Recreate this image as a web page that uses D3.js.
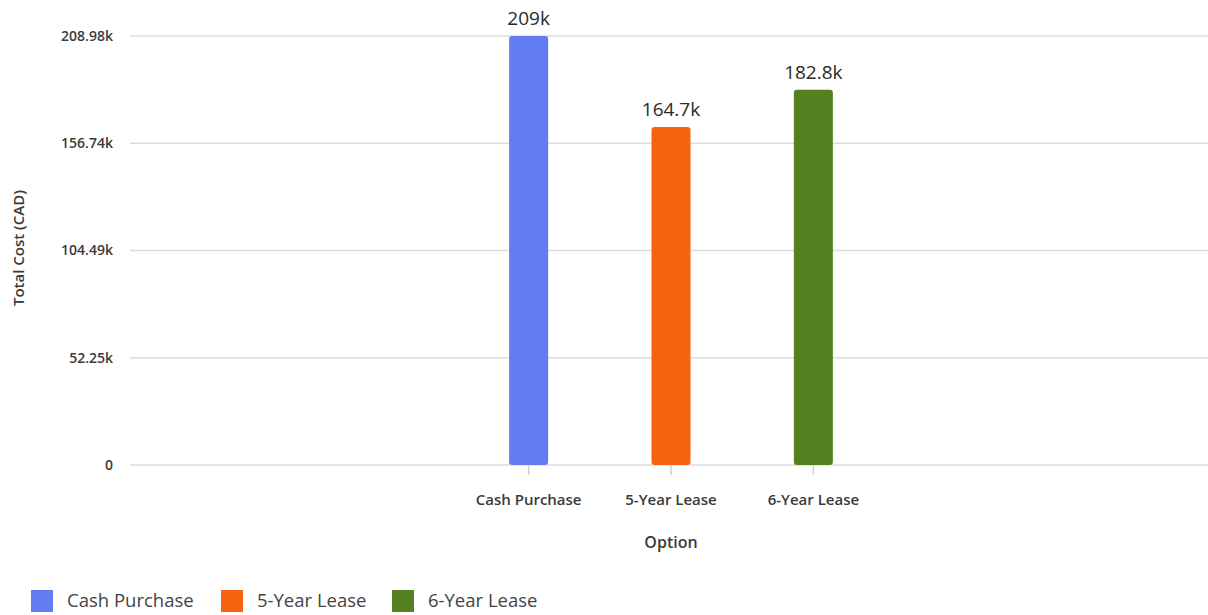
<!DOCTYPE html>
<html><head><meta charset="utf-8">
<script src="https://cdn.jsdelivr.net/npm/d3@7"></script>
<style>
body{margin:0;background:#fff;}
text{font-family:"Open Sans","Noto Sans",sans-serif;fill:#333;}
</style></head>
<body><svg id="c" width="1208" height="615"></svg>
<script>
const categories = ["Cash Purchase","5-Year Lease","6-Year Lease"];
const values = [208980, 164700, 182800];
const valueLabels = ["209k","164.7k","182.8k"];
const yTicks = [0, 52245, 104490, 156735, 208980];
const yTickLabels = ["0","52.25k","104.49k","156.74k","208.98k"];
const colors = ["#637cef","#f7630c","#55801f"];

const svg = d3.select("#c");
const mLeft = 130, mRight = 1212, mTop = 36, mBottom = 465;
const y = d3.scaleLinear().domain([0, 208980]).range([mBottom, mTop]);
const x = d3.scalePoint().domain(categories).range([mLeft, mRight]).padding(2.8);
const bw = 39;

// gridlines
svg.append("g").selectAll("line").data(yTicks).join("line")
  .attr("x1", mLeft).attr("x2", 1208)
  .attr("y1", d=>y(d)).attr("y2", d=>y(d))
  .attr("stroke","#dcdcdc").attr("stroke-width",1.5);
// y labels
svg.append("g").selectAll("text").data(yTicks).join("text")
  .attr("x", 113).attr("y", d=>y(d)).attr("dy","0.35em")
  .attr("text-anchor","end").style("font-size","14px").style("font-weight","600").style("fill","#3a3a3a")
  .text((d,i)=>yTickLabels[i]);
// x ticks
svg.append("g").selectAll("line").data(categories).join("line")
  .attr("x1", d=>x(d)).attr("x2", d=>x(d))
  .attr("y1", mBottom).attr("y2", mBottom+10)
  .attr("stroke","#d0d0d0").attr("stroke-width",1.5);
svg.append("g").selectAll("text").data(categories).join("text")
  .attr("x", d=>x(d)).attr("y", 505)
  .attr("text-anchor","middle").style("font-size","15px").style("font-weight","600").style("fill","#3a3a3a")
  .text(d=>d);
// bars
svg.append("g").selectAll("rect").data(values).join("rect")
  .attr("x",(d,i)=>x(categories[i])-bw/2).attr("width",bw)
  .attr("y",d=>y(d)).attr("height",d=>mBottom-y(d))
  .attr("rx",3).attr("fill",(d,i)=>colors[i]);
// value labels
svg.append("g").selectAll("text").data(values).join("text")
  .attr("x",(d,i)=>x(categories[i])).attr("y",d=>y(d)-11)
  .attr("text-anchor","middle").style("font-size","19px").style("font-weight","400").style("fill","#2a2a2a")
  .text((d,i)=>valueLabels[i]);
// axis titles
svg.append("text").attr("transform","translate(24,248) rotate(-90)")
  .attr("text-anchor","middle").style("font-size","15px").style("font-weight","600").style("fill","#3a3a3a")
  .text("Total Cost (CAD)");
svg.append("text").attr("x", x(categories[1])).attr("y",548)
  .attr("text-anchor","middle").style("font-size","16px").style("font-weight","600").style("fill","#3a3a3a")
  .text("Option");
// legend
const lx = [31, 221, 392];
const lg = svg.append("g").selectAll("g").data(categories).join("g")
  .attr("transform",(d,i)=>`translate(${lx[i]},590)`);
lg.append("rect").attr("width",22).attr("height",22).attr("fill",(d,i)=>colors[i]);
lg.append("text").attr("x",36).attr("y",11).attr("dy","0.35em")
  .style("font-size","18.5px").style("fill","#444").text(d=>d);
</script></body></html>
